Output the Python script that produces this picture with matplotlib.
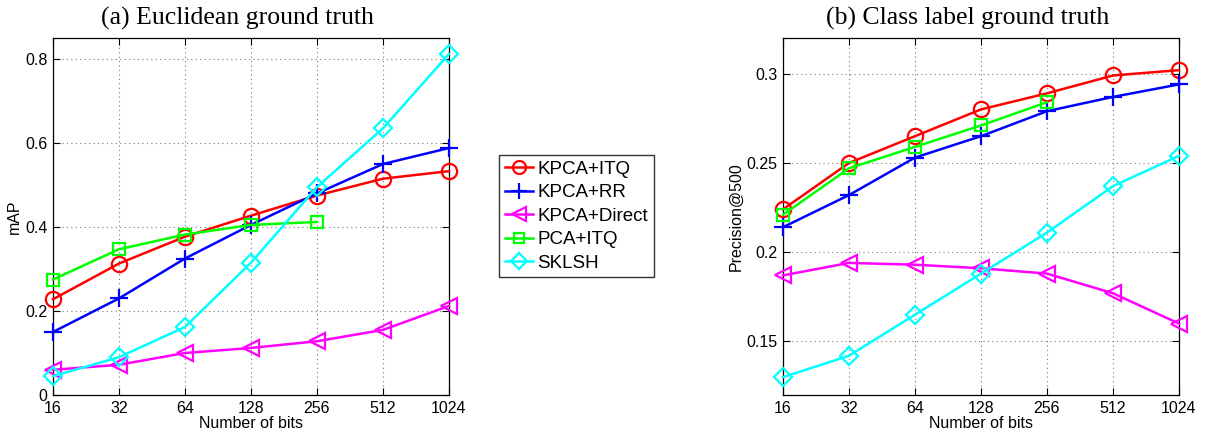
import matplotlib.pyplot as plt

# x axis: number of bits (log2 scale)
bits = [16, 32, 64, 128, 256, 512, 1024]
bits_pca = [16, 32, 64, 128, 256]

# (a) Euclidean ground truth, mAP
map_kpca_itq = [0.228, 0.313, 0.377, 0.427, 0.475, 0.515, 0.533]
map_kpca_rr = [0.150, 0.230, 0.325, 0.405, 0.480, 0.550, 0.588]
map_kpca_direct = [0.060, 0.072, 0.100, 0.112, 0.128, 0.155, 0.212]
map_pca_itq = [0.275, 0.347, 0.382, 0.405, 0.412]
map_sklsh = [0.045, 0.090, 0.162, 0.315, 0.495, 0.635, 0.812]

# (b) Class label ground truth, precision@500
prec_kpca_itq = [0.224, 0.250, 0.265, 0.280, 0.289, 0.299, 0.302]
prec_kpca_rr = [0.214, 0.232, 0.253, 0.265, 0.279, 0.287, 0.294]
prec_kpca_direct = [0.187, 0.194, 0.193, 0.191, 0.188, 0.177, 0.160]
prec_pca_itq = [0.221, 0.247, 0.259, 0.271, 0.284]
prec_sklsh = [0.130, 0.142, 0.165, 0.188, 0.211, 0.237, 0.254]

labels = ['KPCA+ITQ', 'KPCA+RR', 'KPCA+Direct', 'PCA+ITQ', 'SKLSH']
colors = ['#ff0000', '#0000ff', '#ff00ff', '#00ff00', '#00ffff']
markers = ['o', '+', '<', 's', 'D']
msizes = [11, 13, 12, 9, 9]

plt.rcParams['font.family'] = 'Liberation Sans'

W, H = 1205, 432
fig = plt.figure(figsize=(W / 100, H / 100), dpi=100)
ax1 = fig.add_axes([53 / W, (H - 395) / H, (449 - 53) / W, (395 - 38) / H])
ax2 = fig.add_axes([783 / W, (H - 395) / H, (1179 - 783) / W, (395 - 38) / H])


def draw(ax, series, ylim, yticks, yticklabels, ylabel, title):
    handles = []
    for (xs, ys), lab, c, m, ms in zip(series, labels, colors, markers, msizes):
        h, = ax.plot(xs, ys, color=c, marker=m, markersize=ms, markerfacecolor='none',
                     markeredgecolor=c, markeredgewidth=1.6, linewidth=1.8, label=lab,
                     clip_on=False, zorder=3)
        handles.append(h)
    ax.set_xscale('log', base=2)
    ax.set_xlim(16, 1024)
    ax.set_xticks(bits)
    ax.set_xticklabels([str(b) for b in bits])
    ax.minorticks_off()
    ax.set_ylim(*ylim)
    ax.set_yticks(yticks)
    ax.set_yticklabels(yticklabels)
    ax.tick_params(direction='in', top=True, right=True, labelsize=11.5, length=5, pad=4)
    ax.grid(True, linestyle=(0, (1, 3)), color='#777777', linewidth=0.8)
    ax.set_xlabel('Number of bits', fontsize=11.5, labelpad=0.5)
    ax.set_ylabel(ylabel, fontsize=11.5, labelpad=2)
    ax.set_title(title, family='Liberation Serif', fontsize=18.5, pad=10, x=0.467)
    for sp in ax.spines.values():
        sp.set_linewidth(0.9)
    return handles


h = draw(ax1,
         [(bits, map_kpca_itq), (bits, map_kpca_rr), (bits, map_kpca_direct),
          (bits_pca, map_pca_itq), (bits, map_sklsh)],
         (0, 0.85), [0, 0.2, 0.4, 0.6, 0.8], ['0', '0.2', '0.4', '0.6', '0.8'],
         'mAP', '(a) Euclidean ground truth')

draw(ax2,
     [(bits, prec_kpca_itq), (bits, prec_kpca_rr), (bits, prec_kpca_direct),
      (bits_pca, prec_pca_itq), (bits, prec_sklsh)],
     (0.12, 0.32), [0.15, 0.2, 0.25, 0.3], ['0.15', '0.2', '0.25', '0.3'],
     'Precision@500', '(b) Class label ground truth')

leg = fig.legend(handles=h, loc='upper left', bbox_to_anchor=(499 / W, 1 - 155 / H),
                 fontsize=13.5, frameon=True, fancybox=False, edgecolor='black',
                 handlelength=1.5, handletextpad=0.25, borderpad=0.3, labelspacing=0.34,
                 borderaxespad=0, markerscale=0.85)
leg.get_frame().set_linewidth(1.0)

fig.savefig('out.png', dpi=100)
